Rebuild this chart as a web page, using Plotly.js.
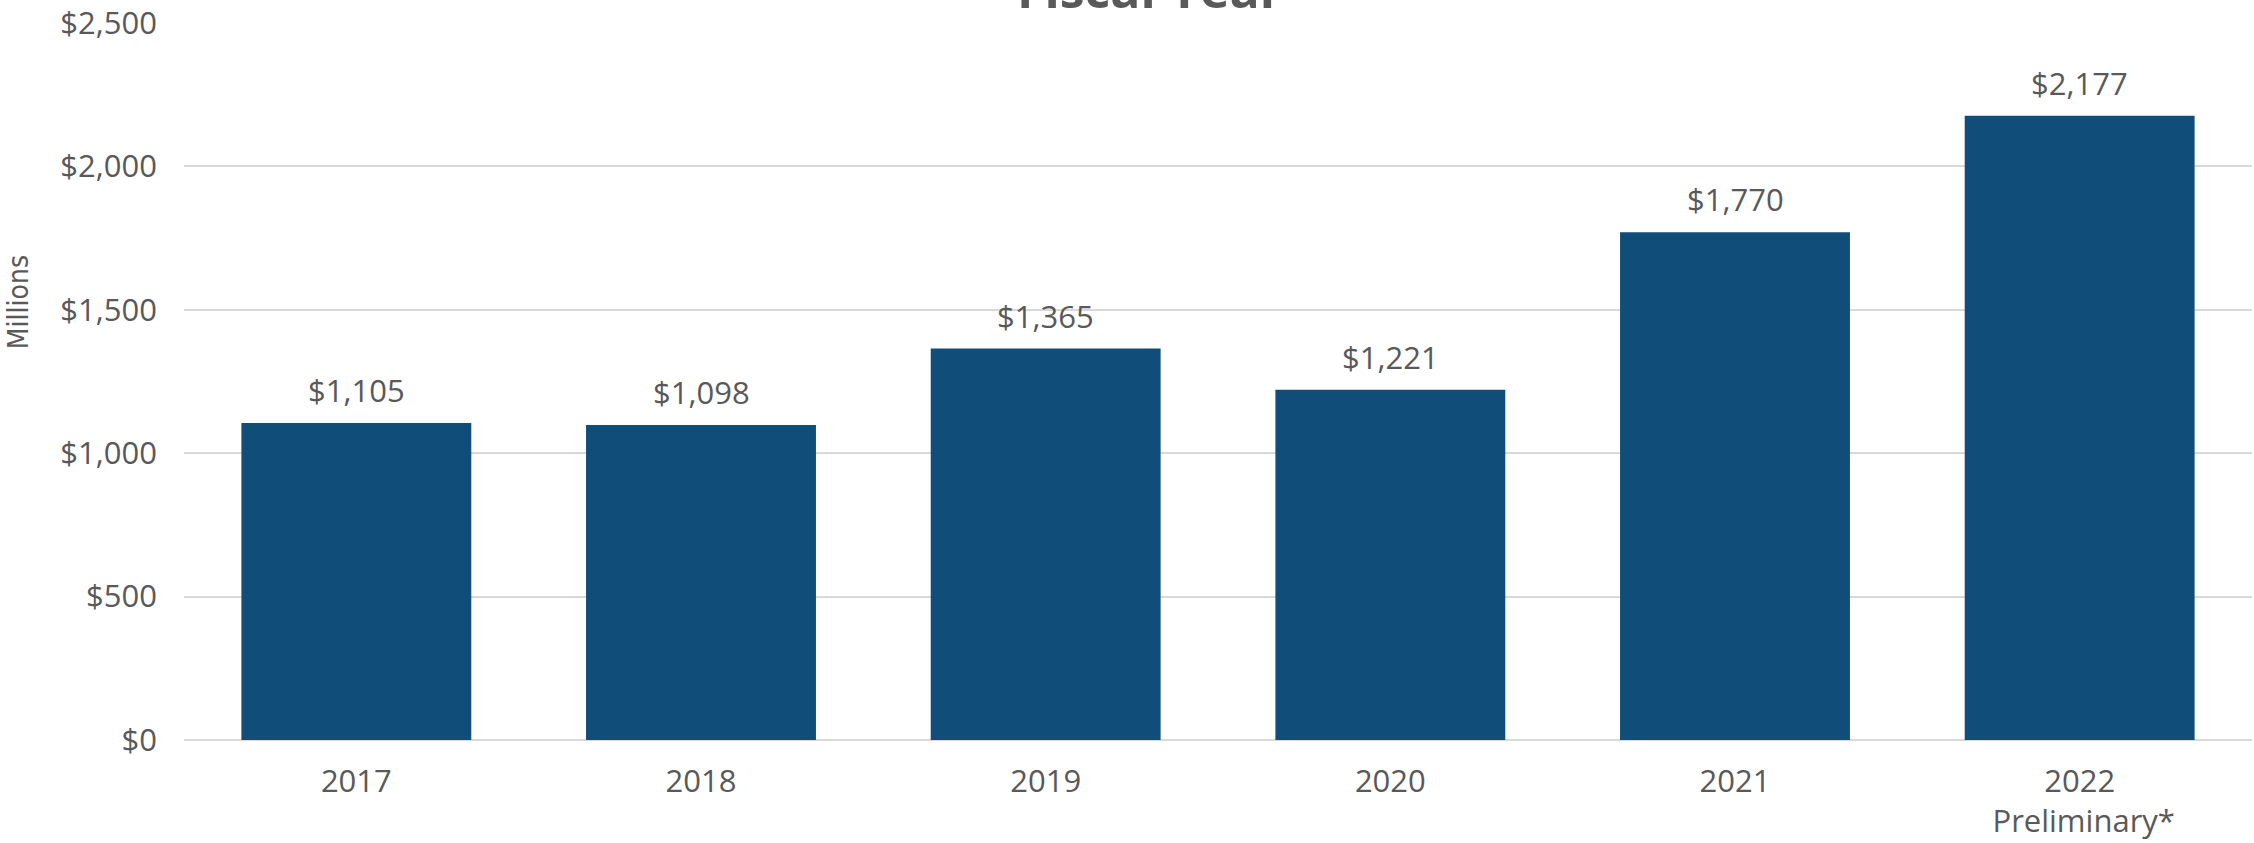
<!DOCTYPE html>
<html>
<head>
<meta charset="utf-8">
<script src="https://cdn.plot.ly/plotly-3.0.1.min.js"></script>
<style>
  html, body { margin: 0; padding: 0; background: #ffffff; }
  #chart { width: 2254px; height: 843px; }
</style>
</head>
<body>
<div id="chart"></div>
<script>
// Fiscal year totals, in millions of dollars
const years = ['2017', '2018', '2019', '2020', '2021', '2022'];
const yearLabels = ['2017', '2018', '2019', '2020', '2021', '2022<br> Preliminary*'];
const amounts = [1105, 1098, 1365, 1221, 1770, 2177];
const yTicks = [0, 500, 1000, 1500, 2000, 2500];

const TEXT = '#595959';
const BAR = '#104D78';
const GRID = '#d9d9d9';
const FONT = '"Open Sans", "Noto Sans", sans-serif';

const bars = {
    type: 'bar',
    x: years,
    y: amounts,
    marker: { color: BAR, line: { width: 0 } },
    hoverinfo: 'skip',
    showlegend: false
};

// value labels above each bar (category index, so the axis doesn't read '2017' as a number)
const valueLabels = years.map((yr, i) => ({
    x: i,
    y: amounts[i],
    xref: 'x',
    yref: 'y',
    text: '$' + amounts[i].toLocaleString('en-US'),
    showarrow: false,
    yanchor: 'bottom',
    yshift: 10,
    font: { family: FONT, size: 31, color: TEXT }
}));

const layout = {
    width: 2254,
    height: 843,
    margin: { t: 23, b: 103, l: 184, r: 2 },
    paper_bgcolor: '#ffffff',
    plot_bgcolor: '#ffffff',
    bargap: 0.333,
    font: { family: FONT, color: TEXT },
    xaxis: {
        type: 'category',
        range: [-0.5, years.length - 0.5],
        tickvals: years,
        ticktext: yearLabels,
        tickfont: { family: FONT, size: 31, color: TEXT },
        ticks: '',
        ticklabelstandoff: 20,
        showgrid: false,
        showline: false,
        zeroline: false
    },
    yaxis: {
        range: [0, 2500],
        tickvals: yTicks,
        tickformat: '$,',
        tickfont: { family: FONT, size: 31, color: TEXT },
        ticks: '',
        ticklabelstandoff: 26,
        showgrid: true,
        gridcolor: GRID,
        gridwidth: 2,
        zeroline: true,
        zerolinecolor: GRID,
        zerolinewidth: 2,
        showline: false
    },
    annotations: [
        ...valueLabels,
        {
            text: '<b>Fiscal Year</b>',
            xref: 'paper', yref: 'paper',
            x: 0.467, y: 1,
            xanchor: 'center', yanchor: 'bottom',
            yshift: -2,
            showarrow: false,
            font: { family: FONT, size: 50, color: TEXT }
        },
        {
            text: 'Millions',
            xref: 'paper', yref: 'paper',
            x: -0.08, y: 0.61,
            xanchor: 'center', yanchor: 'middle',
            textangle: -90,
            showarrow: false,
            font: { family: '"Liberation Sans Narrow", "DejaVu Sans Condensed", sans-serif', size: 28, color: TEXT }
        }
    ]
};

Plotly.newPlot('chart', [bars], layout, { displayModeBar: false, staticPlot: true });
</script>
</body>
</html>
